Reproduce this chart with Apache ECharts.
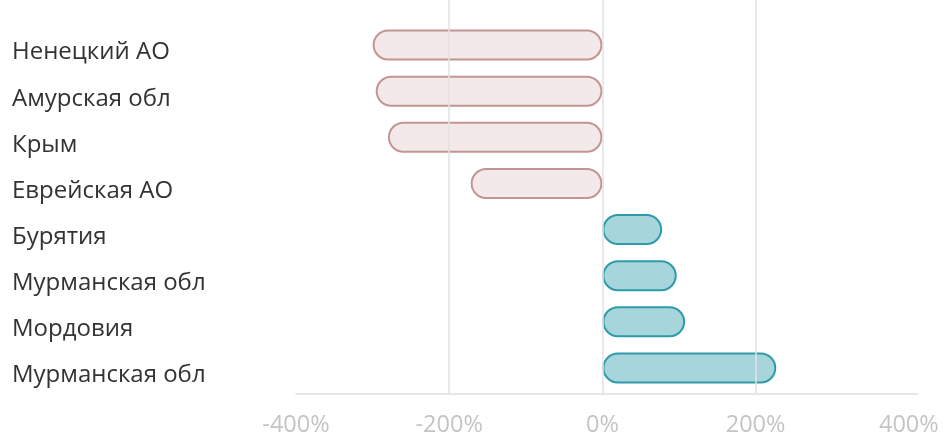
<!DOCTYPE html>
<html>
<head>
<meta charset="utf-8">
<script src="https://cdn.jsdelivr.net/npm/echarts@6/dist/echarts.min.js"></script>
<style>
html,body{margin:0;padding:0;background:#fff;}
#main{width:950px;height:437px;}
</style>
</head>
<body>
<div id="main"></div>
<script>
const categories = ['Ненецкий АО','Амурская обл','Крым','Еврейская АО','Бурятия','Мурманская обл','Мордовия','Мурманская обл'];
const values = [-300, -296, -280, -172, 78, 97, 108, 227];
const xTicks = [-400, -200, 0, 200, 400];
const gridValues = [-200, 0, 200];

const negStyle = {color:'#f4e9e9', borderColor:'#c29594', borderWidth:2, borderRadius:16};
const posStyle = {color:'#a6d5db', borderColor:'#2e9ba8', borderWidth:2, borderRadius:16};

const xMin = -400, xMax = 412;

const chart = echarts.init(document.getElementById('main'), null, {renderer:'canvas'});
chart.setOption({
  animation:false,
  grid:[
    {left:296, right:32, top:22, bottom:46, containLabel:false},
    {left:296, right:32, top:0, bottom:40, containLabel:false}
  ],
  xAxis:[
    {
      gridIndex:0, type:'value', min:xMin, max:xMax, interval:200,
      axisLine:{show:false}, axisTick:{show:false}, axisLabel:{show:false}, splitLine:{show:false}
    },
    {
      gridIndex:1, type:'value', min:xMin, max:xMax, interval:200,
      axisLine:{show:true, lineStyle:{color:'#dedede', width:1.5}},
      axisTick:{show:false},
      axisLabel:{
        margin:19, color:'#c4c4c4', fontSize:23.5, fontFamily:'Open Sans',
        formatter:function(v){ return xTicks.indexOf(v) >= 0 ? v + '%' : ''; }
      },
      splitLine:{show:false}
    }
  ],
  yAxis:[
    {
      gridIndex:0, type:'category', data:categories, inverse:true,
      axisLine:{show:false}, axisTick:{show:false},
      axisLabel:{
        align:'left', margin:284, color:'#333333', fontSize:24, fontFamily:'Open Sans',
        verticalAlign:'top', lineHeight:15
      }
    },
    {
      gridIndex:1, type:'value', min:0, max:1, show:false
    }
  ],
  series:[
    {
      type:'line', xAxisIndex:1, yAxisIndex:1, z:0,
      data:[[0,0]], showSymbol:false, lineStyle:{opacity:0}, silent:true,
      markLine:{
        silent:true, symbol:['none','none'], label:{show:false},
        lineStyle:{color:'#e2e2e2', width:1.5, type:'solid'},
        data: gridValues.map(v => ({xAxis:v}))
      }
    },
    {
      type:'bar', xAxisIndex:0, yAxisIndex:0, z:2,
      barWidth:31,
      data: values.map(v => ({value:v, itemStyle: v < 0 ? negStyle : posStyle}))
    }
  ]
});
</script>
</body>
</html>
